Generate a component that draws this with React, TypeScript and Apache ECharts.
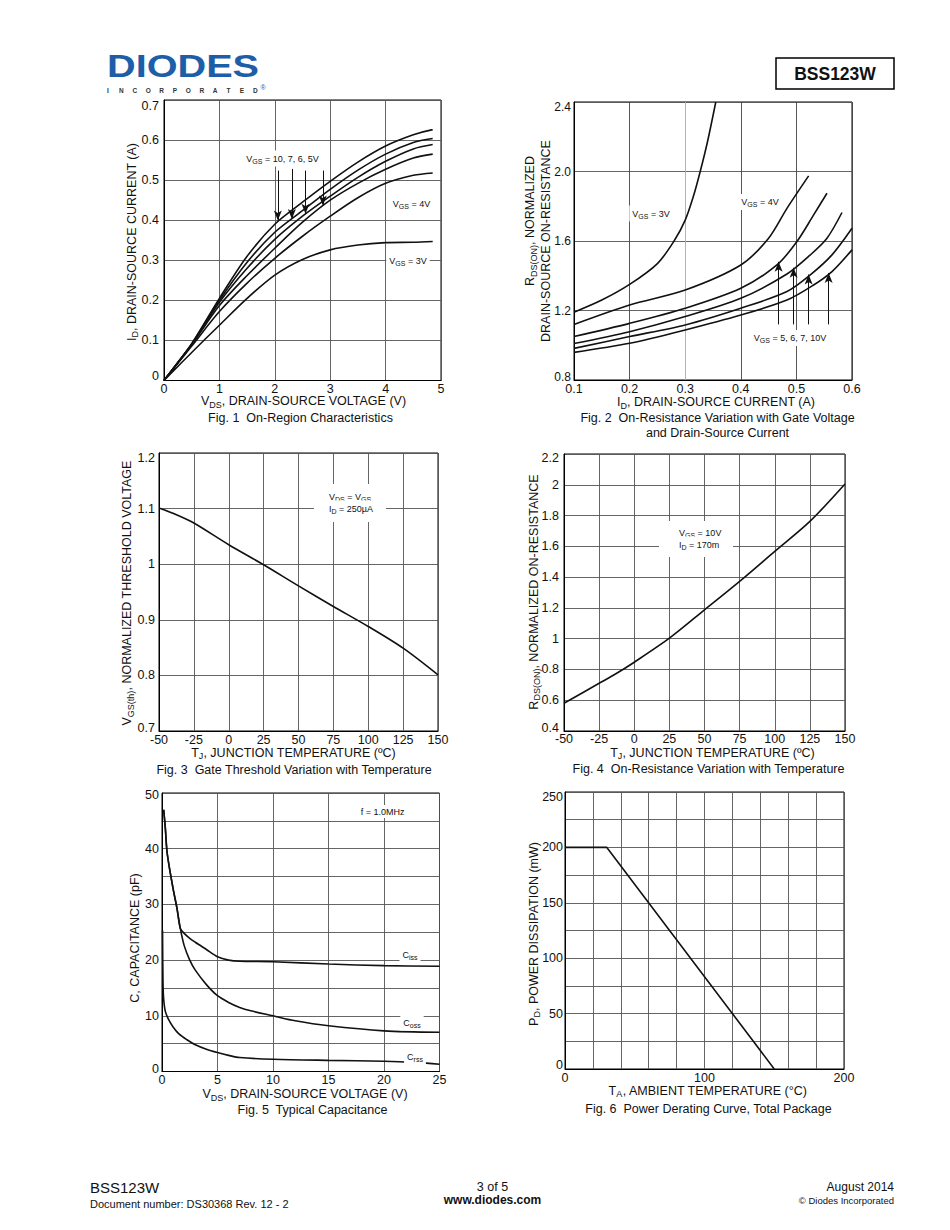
import React, { useEffect, useRef } from "react";
import * as echarts from "echarts";

const FONT = '"Liberation Sans", Arial, Helvetica, sans-serif';
const INK = "#111";

// ---------- Fig. 1  On-Region Characteristics ----------
const fig1Vds = [0, 0.25, 0.5, 1, 1.5, 2, 2.5, 3, 3.5, 4, 4.5, 4.85];
const fig1Vgs10 = [0, 0.045, 0.092, 0.205, 0.31, 0.39, 0.445, 0.497, 0.545, 0.585, 0.613, 0.626];
const fig1Vgs7 = [0, 0.045, 0.091, 0.2, 0.295, 0.37, 0.424, 0.477, 0.525, 0.565, 0.594, 0.604];
const fig1Vgs6 = [0, 0.045, 0.09, 0.195, 0.28, 0.352, 0.41, 0.46, 0.507, 0.547, 0.578, 0.589];
const fig1Vgs5 = [0, 0.044, 0.089, 0.187, 0.262, 0.33, 0.395, 0.45, 0.492, 0.527, 0.555, 0.565];
const fig1Vgs4 = [0, 0.043, 0.086, 0.172, 0.243, 0.305, 0.36, 0.41, 0.456, 0.492, 0.512, 0.518];
const fig1Vgs3 = [0, 0.035, 0.07, 0.138, 0.205, 0.263, 0.302, 0.326, 0.338, 0.344, 0.345, 0.347];
const fig1ArrowX = [2.055, 2.308, 2.554, 2.867];
const fig1ArrowFrom = [0.524, 0.528, 0.524, 0.524];
const fig1ArrowTo = [0.399, 0.403, 0.416, 0.437];

// ---------- Fig. 2  On-Resistance vs Gate Voltage and Drain Current ----------
const fig2Id3 = [0.1, 0.15, 0.2, 0.25, 0.28, 0.3, 0.315, 0.327, 0.34, 0.355];
const fig2R3 = [1.19, 1.26, 1.35, 1.47, 1.6, 1.72, 1.86, 2.0, 2.17, 2.4];
const fig2Id4 = [0.1, 0.2, 0.3, 0.4, 0.45, 0.483, 0.522];
const fig2R4 = [1.12, 1.232, 1.318, 1.462, 1.616, 1.788, 1.975];
const fig2Id5 = [0.1, 0.2, 0.3, 0.4, 0.465, 0.501, 0.531, 0.555];
const fig2R5 = [1.05, 1.126, 1.213, 1.328, 1.462, 1.597, 1.75, 1.875];
const fig2Id6 = [0.1, 0.2, 0.3, 0.4, 0.483, 0.525, 0.555, 0.582];
const fig2R6 = [1.01, 1.078, 1.165, 1.27, 1.41, 1.52, 1.616, 1.764];
const fig2Id7 = [0.1, 0.2, 0.3, 0.4, 0.483, 0.525, 0.564, 0.6];
const fig2R7 = [0.982, 1.05, 1.117, 1.213, 1.309, 1.405, 1.52, 1.673];
const fig2Id10 = [0.1, 0.2, 0.3, 0.4, 0.483, 0.531, 0.564, 0.6];
const fig2R10 = [0.959, 1.011, 1.088, 1.174, 1.26, 1.347, 1.424, 1.549];
const fig2ArrowX = [0.468, 0.495, 0.522, 0.558];
const fig2ArrowFrom = [1.12, 1.12, 1.12, 1.12];
const fig2ArrowTo = [1.48, 1.446, 1.407, 1.416];

// ---------- Fig. 3  Gate Threshold Variation with Temperature ----------
const fig3Temp = [-50, -37.5, -25, 0, 25, 50, 75, 100, 125, 150];
const fig3Vth = [1.101, 1.089, 1.074, 1.035, 0.999, 0.961, 0.924, 0.888, 0.849, 0.801];

// ---------- Fig. 4  On-Resistance Variation with Temperature ----------
const fig4Temp = [-50, -25, -12.5, 0, 25, 50, 75, 100, 125, 150];
const fig4Rds = [0.58, 0.71, 0.775, 0.847, 1.003, 1.187, 1.372, 1.567, 1.762, 2.005];

// ---------- Fig. 5  Typical Capacitance ----------
const fig5CissV = [0.15, 0.3, 0.45, 0.75, 1.05, 1.35, 1.65, 2, 2.5, 3, 4, 5, 6, 7, 10, 15, 20, 25];
const fig5Ciss = [47, 43.7, 39.5, 35.6, 32.3, 29.3, 25.7, 24.8, 23.9, 23.2, 21.9, 20.6, 20.0, 19.8, 19.7, 19.3, 19.0, 18.9];
const fig5CossV = [0.15, 0.3, 0.45, 0.75, 1.05, 1.35, 1.65, 2, 2.5, 3, 4, 5, 6, 7, 8, 10, 12, 15, 20, 25];
const fig5Coss = [47, 43.7, 39.5, 35.6, 32.3, 29.3, 25.7, 22.6, 20, 18.2, 15.6, 13.6, 12.4, 11.5, 10.9, 10, 9.1, 8.2, 7.3, 7.05];
const fig5CrssV = [0.05, 0.09, 0.15, 0.3, 0.6, 1, 1.5, 2.25, 3, 4, 5, 6, 7, 10, 15, 20, 23, 25];
const fig5Crss = [25.3, 16, 13, 10.8, 9.3, 8, 6.8, 5.7, 4.8, 4, 3.4, 2.9, 2.5, 2.2, 2.0, 1.85, 1.6, 1.3];

// ---------- Fig. 6  Power Derating Curve ----------
const fig6Temp = [0, 30, 150];
const fig6Pd = [200, 200, 0];

const zip = (xs: number[], ys: number[]) => xs.map((x, i) => [x, ys[i]]);

const richSet = (size: number, subSize: number, pad: number) => ({
  n: { fontSize: size, fontFamily: FONT, fill: INK },
  s: { fontSize: subSize, fontFamily: FONT, fill: INK, padding: [pad, 0, 0, 0] },
});
const TITLE_RICH = richSet(12.5, 9, 7);
const NOTE_RICH = richSet(9, 7, 5);

type TOpt = {
  rot?: number;
  size?: number;
  weight?: string;
  align?: string;
  va?: string;
  rich?: any;
  bg?: string;
  pad?: number[];
  color?: string;
  scaleX?: number;
};
const T = (x: number, y: number, text: string, o: TOpt = {}) => ({
  type: "text",
  x,
  y,
  z: 100,
  silent: true,
  rotation: o.rot || 0,
  scaleX: o.scaleX || 1,
  style: {
    text,
    fill: o.color || INK,
    fontSize: o.size || 12.5,
    fontFamily: FONT,
    fontWeight: o.weight || "normal",
    align: o.align || "center",
    verticalAlign: o.va || "middle",
    rich: o.rich,
    backgroundColor: o.bg,
    padding: o.pad,
  },
});
const title = (x: number, y: number, text: string, rot = 0) =>
  T(x, y, text, { rich: TITLE_RICH, rot });
const note = (x: number, y: number, text: string, align = "center") =>
  T(x, y, text, { rich: NOTE_RICH, size: 9, align, bg: "#fff", pad: [2, 3, 2, 3] });

const grids = [
  { left: 164, top: 100, width: 277, height: 280.5 },
  { left: 574, top: 102, width: 278, height: 278 },
  { left: 159, top: 453, width: 279, height: 278 },
  { left: 564, top: 454, width: 281, height: 277 },
  { left: 162, top: 793, width: 277.5, height: 278.5 },
  { left: 565, top: 792, width: 279, height: 277 },
].map((g) => ({ ...g, show: true, borderColor: "#000", borderWidth: 1, backgroundColor: "transparent" }));

const axis = (
  gi: number,
  min: number,
  max: number,
  interval: number,
  margin: number,
  formatter?: any,
  gridColor: any = "#555",
  fontSize = 12.5,
  endPad: number[] = [0, 0]
) => ({
  type: "value",
  gridIndex: gi,
  min,
  max,
  interval,
  axisLine: { show: true, onZero: false, lineStyle: { color: "#000", width: 1 } },
  axisTick: { show: false },
  splitLine: { show: true, lineStyle: { color: gridColor, width: 0.9 } },
  axisLabel: {
    color: INK,
    fontSize,
    fontFamily: FONT,
    margin,
    formatter,
    rich: {
      lo: { fontSize, fontFamily: FONT, color: INK, padding: [0, 0, endPad[0], 0] },
      hi: { fontSize, fontFamily: FONT, color: INK, padding: [endPad[1], 0, 0, 0] },
    },
  },
});

const f1 = (v: number) => v.toFixed(1);
const every = (step: number) => (v: number) =>
  Math.abs(v / step - Math.round(v / step)) < 1e-6 ? String(v) : "";
// y-axis label formatter: end labels nudged inside the plot like the scan
const yFmt = (min: number, max: number, base: (v: number) => string = (v) => String(v)) => (v: number) => {
  const s = base(v);
  if (s === "") return "";
  if (Math.abs(v - min) < 1e-9) return `{lo|${s}}`;
  if (Math.abs(v - max) < 1e-9) return `{hi|${s}}`;
  return s;
};

const line = (gi: number, xs: number[], ys: number[], extra: any = {}) => ({
  type: "line",
  xAxisIndex: gi,
  yAxisIndex: gi,
  data: zip(xs, ys),
  symbol: "none",
  smooth: 0.3,
  silent: true,
  lineStyle: { color: INK, width: 1.6 },
  z: 5,
  ...extra,
});

const arrows = (xs: number[], from: number[], to: number[]) => ({
  silent: true,
  symbol: ["none", "arrow"],
  symbolSize: [6, 10],
  label: { show: false },
  lineStyle: { color: INK, width: 1, type: "solid" },
  itemStyle: { color: INK },
  data: xs.map((x, i) => [{ coord: [x, from[i]] }, { coord: [x, to[i]] }]),
});

const incorporated = "INCORPORATED".split("").map((c, i) =>
  T(108 + i * 13.4, 90.5, c, { size: 6.5, weight: "bold", color: "#333" })
);

const option = {
  animation: false,
  backgroundColor: "#fff",
  grid: grids,
  xAxis: [
    axis(0, 0, 5, 1, 2),
    axis(1, 0.1, 0.6, 0.1, 2, f1, ["#444", "#444", "#aaa", "#444", "#444", "#444"]),
    axis(2, -50, 150, 25, 2),
    axis(3, -50, 150, 25, 1),
    axis(4, 0, 25, 5, 2),
    axis(5, 0, 200, 20, 2, every(100)),
  ],
  yAxis: [
    axis(0, 0, 0.7, 0.1, 5, yFmt(0, 0.7), "#555", 12.5, [9, 12]),
    axis(1, 0.8, 2.4, 0.4, 3, yFmt(0.8, 2.4, f1), "#555", 12, [7, 9]),
    axis(2, 0.7, 1.2, 0.1, 4, yFmt(0.7, 1.2), "#555", 12.5, [7, 9]),
    axis(3, 0.4, 2.2, 0.2, 5, yFmt(0.4, 2.2), "#555", 12.5, [7, 8]),
    axis(4, 0, 50, 5, 3, yFmt(0, 50, every(10)), "#555", 12.5, [5, 4]),
    axis(5, 0, 250, 25, 2, yFmt(0, 250, every(50)), "#555", 12.5, [8, 9]),
  ],
  series: [
    line(0, fig1Vds, fig1Vgs10, { markLine: arrows(fig1ArrowX, fig1ArrowFrom, fig1ArrowTo) }),
    line(0, fig1Vds, fig1Vgs7),
    line(0, fig1Vds, fig1Vgs6),
    line(0, fig1Vds, fig1Vgs5),
    line(0, fig1Vds, fig1Vgs4),
    line(0, fig1Vds, fig1Vgs3),
    line(1, fig2Id3, fig2R3),
    line(1, fig2Id4, fig2R4),
    line(1, fig2Id5, fig2R5, { markLine: arrows(fig2ArrowX, fig2ArrowFrom, fig2ArrowTo) }),
    line(1, fig2Id6, fig2R6),
    line(1, fig2Id7, fig2R7),
    line(1, fig2Id10, fig2R10),
    line(2, fig3Temp, fig3Vth),
    line(3, fig4Temp, fig4Rds),
    line(4, fig5CissV, fig5Ciss),
    line(4, fig5CossV, fig5Coss),
    line(4, fig5CrssV, fig5Crss),
    line(5, fig6Temp, fig6Pd, { smooth: false }),
  ],
  graphic: [
    // header
    T(107, 66, "DIODES", { size: 32, weight: "bold", color: "#1d5ea9", align: "left", scaleX: 1.24 }),
    ...incorporated,
    T(263, 87, "®", { size: 7, color: "#1d5ea9" }),
    {
      type: "rect",
      z: 100,
      silent: true,
      shape: { x: 776, y: 58, width: 118, height: 31 },
      style: { fill: "none", stroke: "#000", lineWidth: 1.5 },
    },
    T(835, 74, "BSS123W", { size: 17.5, weight: "bold" }),

    // Fig 1
    title(131.5, 242, "{n|I}{s|D}{n|, DRAIN-SOURCE CURRENT (A)}", Math.PI / 2),
    title(303.5, 401, "{n|V}{s|DS}{n|, DRAIN-SOURCE VOLTAGE (V)}"),
    T(300.5, 418, "Fig. 1  On-Region Characteristics"),
    note(282.5, 158.5, "{n|V}{s|GS}{n| = 10, 7, 6, 5V}"),
    note(411.5, 203.5, "{n|V}{s|GS}{n| = 4V}"),
    note(408, 261, "{n|V}{s|GS}{n| = 3V}"),

    // Fig 2
    title(530, 221, "{n|R}{s|DS(ON)}{n|, NORMALIZED}", Math.PI / 2),
    title(546, 241, "DRAIN-SOURCE ON-RESISTANCE", Math.PI / 2),
    title(716, 402, "{n|I}{s|D}{n|, DRAIN-SOURCE CURRENT (A)}"),
    T(717.5, 418, "Fig. 2  On-Resistance Variation with Gate Voltage"),
    T(717.5, 432.5, "and Drain-Source Current"),
    note(651, 213.5, "{n|V}{s|GS}{n| = 3V}"),
    note(760, 202, "{n|V}{s|GS}{n| = 4V}"),
    note(790, 338, "{n|V}{s|GS}{n| = 5, 6, 7, 10V}"),

    // Fig 3
    title(127, 593, "{n|V}{s|GS(th)}{n|, NORMALIZED THRESHOLD VOLTAGE}", Math.PI / 2),
    title(293.5, 752.5, "{n|T}{s|J}{n|, JUNCTION TEMPERATURE (ºC)}"),
    T(294, 770, "Fig. 3  Gate Threshold Variation with Temperature"),
    {
      type: "rect",
      z: 90,
      silent: true,
      shape: { x: 314, y: 484, width: 72, height: 38 },
      style: { fill: "#fff" },
    },
    note(326, 497, "{n|V}{s|DS}{n| = V}{s|GS}", "left"),
    note(326, 508.5, "{n|I}{s|D}{n| = 250µA}", "left"),

    // Fig 4
    title(533.5, 592, "{n|R}{s|DS(ON)}{n|, NORMALIZED ON-RESISTANCE}", Math.PI / 2),
    title(712.5, 752.5, "{n|T}{s|J}{n|, JUNCTION TEMPERATURE (ºC)}"),
    T(708.5, 769, "Fig. 4  On-Resistance Variation with Temperature"),
    {
      type: "rect",
      z: 90,
      silent: true,
      shape: { x: 659, y: 521, width: 74, height: 36 },
      style: { fill: "#fff" },
    },
    note(676, 532.5, "{n|V}{s|GS}{n| = 10V}", "left"),
    note(676, 544.5, "{n|I}{s|D}{n| = 170m}", "left"),

    // Fig 5
    title(135, 938, "C, CAPACITANCE (pF)", Math.PI / 2),
    title(305, 1094, "{n|V}{s|DS}{n|, DRAIN-SOURCE VOLTAGE (V)}"),
    T(312.5, 1110, "Fig. 5  Typical Capacitance"),
    note(382.5, 811.5, "{n|f = 1.0MHz}"),
    note(410, 954.5, "{n|C}{s|iss}"),
    note(412, 1022.5, "{n|C}{s|oss}"),
    note(415, 1056.5, "{n|C}{s|rss}"),

    // Fig 6
    title(533.5, 934, "{n|P}{s|D}{n|, POWER DISSIPATION (mW)}", Math.PI / 2),
    title(708, 1090.5, "{n|T}{s|A}{n|, AMBIENT TEMPERATURE (°C)}"),
    T(708.5, 1108.5, "Fig. 6  Power Derating Curve, Total Package"),

    // footer
    T(90, 1187.5, "BSS123W", { size: 15, align: "left" }),
    T(90, 1203.5, "Document number: DS30368 Rev. 12 - 2", { size: 11, align: "left" }),
    T(492.5, 1187, "3 of 5", { size: 12.5 }),
    T(492.5, 1199.5, "www.diodes.com", { size: 12, weight: "bold" }),
    T(894, 1186.5, "August 2014", { size: 12, align: "right" }),
    T(894, 1200.5, "© Diodes Incorporated", { size: 9.5, align: "right" }),
  ],
};

export default function App() {
  const ref = useRef<HTMLDivElement>(null);
  useEffect(() => {
    const el = ref.current;
    if (!el) return;
    const chart = echarts.init(el, null, { renderer: "svg", width: 950, height: 1230 });
    chart.setOption(option as any);
    return () => chart.dispose();
  }, []);
  return (
    <div
      ref={ref}
      style={{ position: "absolute", left: 0, top: 0, width: 950, height: 1230, background: "#fff" }}
    />
  );
}
